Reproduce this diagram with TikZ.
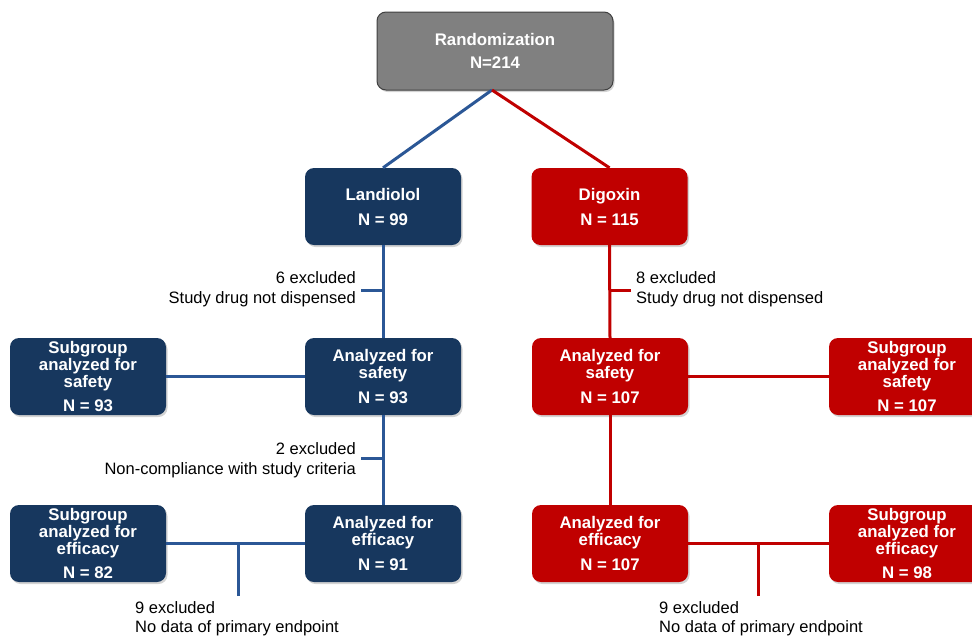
\documentclass[tikz,border=0pt]{standalone}
\usepackage{fontspec}
\setmainfont{Liberation Sans}
\usetikzlibrary{shadows}
\definecolor{navy}{HTML}{17375E}
\definecolor{navyline}{HTML}{2B5796}
\definecolor{redbox}{HTML}{C00000}
\definecolor{grayfill}{HTML}{808080}
\begin{document}
\begin{tikzpicture}[x=1pt,y=-1pt,
  box/.style={rounded corners=9pt, minimum width=156pt, minimum height=77pt,
    text=white, align=center, font=\bfseries\fontsize{16.8}{17}\selectfont, inner sep=2pt,
    drop shadow={shadow xshift=1.5pt, shadow yshift=-2pt, opacity=0.35}},
  bbox/.style={box, fill=navy},
  rbox/.style={box, fill=redbox},
  bline/.style={draw=navyline, line width=3pt},
  rline/.style={draw=redbox, line width=3pt},
  note/.style={font=\fontsize{16.5}{19.5}\selectfont, inner sep=0pt}]
\useasboundingbox (0,0) rectangle (972,638);
\begin{scope}
\clip (0,0) rectangle (972,638);
% boxes
\node[box, fill=grayfill, draw=black!75, line width=1pt, minimum width=236pt, minimum height=78pt] (rand) at (495,51) {Randomization\\[6pt]N=214};
\node[bbox] (land) at (383,206.5) {Landiolol\\[8pt]N = 99};
\node[rbox] (dig) at (609.5,206.5) {Digoxin\\[8pt]N = 115};
\node[bbox] (asl) at (383,376.5) {Analyzed for\\safety\\[8pt]N = 93};
\node[bbox] (sasl) at (88,376.5) {Subgroup\\analyzed for\\safety\\[7pt]N = 93};
\node[rbox] (asr) at (610,376.5) {Analyzed for\\safety\\[8pt]N = 107};
\node[rbox] (sasr) at (907,376.5) {Subgroup\\analyzed for\\safety\\[7pt]N = 107};
\node[bbox] (efl) at (383,543.5) {Analyzed for\\efficacy\\[8pt]N = 91};
\node[bbox] (sefl) at (88,543.5) {Subgroup\\analyzed for\\efficacy\\[7pt]N = 82};
\node[rbox] (efr) at (610,543.5) {Analyzed for\\efficacy\\[8pt]N = 107};
\node[rbox] (sefr) at (907,543.5) {Subgroup\\analyzed for\\efficacy\\[7pt]N = 98};
% connectors from randomization
\coordinate (rs) at (492,90);
\draw[bline] (rs) -- (land.north);
\draw[rline] (rs) -- (dig.north);
% vertical lines
\draw[bline] (land.south) -- (asl.north);
\draw[rline] (dig.south) -- (asr.north);
\draw[bline] (asl.south) -- (efl.north);
\draw[rline] (asr.south) -- (efr.north);
% horizontal links
\draw[bline] (sasl.east) -- (asl.west);
\draw[rline] (asr.east) -- (sasr.west);
\draw[bline] (sefl.east) -- (efl.west);
\draw[rline] (efr.east) -- (sefr.west);
% ticks
\coordinate (t1) at (361,290);
\draw[bline] (t1) -- (t1 -| land.south);
\coordinate (t2) at (631,290);
\draw[rline] (t2) -- (t2 -| dig.south);
\coordinate (t3) at (361,458);
\draw[bline] (t3) -- (t3 -| asl.south);
\coordinate (b1) at (238,596);
\draw[bline] (b1) -- (b1 |- efl.west);
\coordinate (b2) at (758,596);
\draw[rline] (b2) -- (b2 |- efr.east);
% notes
\node[note, anchor=east, align=right] (n1) at (356,289) {6 excluded\\Study drug not dispensed};
\node[note, anchor=west, align=left] (n2) at (636,289) {8 excluded\\Study drug not dispensed};
\node[note, anchor=east, align=right] (n3) at (356,460) {2 excluded\\Non-compliance with study criteria};
\node[note, anchor=north west, align=left] (n4) at (135,601) {9 excluded\\No data of primary endpoint};
\node[note, anchor=north west, align=left] (n5) at (659,601) {9 excluded\\No data of primary endpoint};
\end{scope}
\end{tikzpicture}
\end{document}
